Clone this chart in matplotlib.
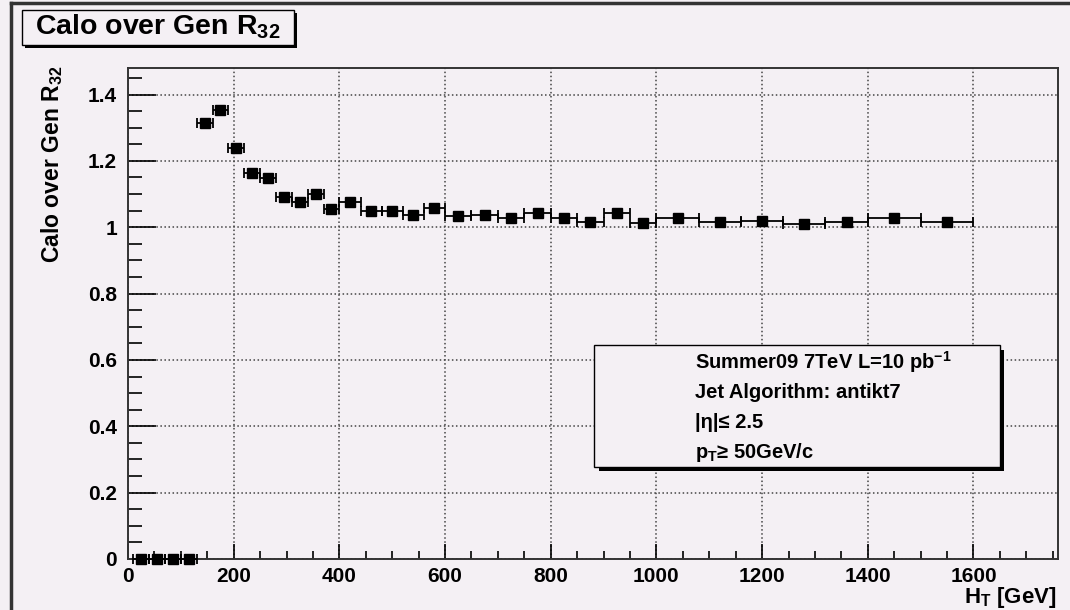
import matplotlib
matplotlib.use("Agg")
import matplotlib.pyplot as plt
from matplotlib.patches import Rectangle
from matplotlib.lines import Line2D
from matplotlib.ticker import MultipleLocator, FuncFormatter
import numpy as np

plt.rcParams['font.family'] = ['Liberation Sans', 'DejaVu Sans']
plt.rcParams['font.weight'] = 'bold'
plt.rcParams['mathtext.default'] = 'regular'

# H_T bin edges (GeV) and Calo/Gen R32 ratio per bin
bin_edges = [10, 40, 70, 100, 130, 160, 190, 220, 250, 280, 310, 340, 370, 400,
             440, 480, 520, 560, 600, 650, 700, 750, 800, 850, 900, 950, 1000,
             1080, 1160, 1240, 1320, 1400, 1500, 1600]
ratio = [0.0, 0.0, 0.0, 0.0,
         1.313, 1.352, 1.238, 1.163, 1.148, 1.091, 1.076, 1.100, 1.055,
         1.076, 1.049, 1.049, 1.037, 1.058, 1.034, 1.037, 1.028, 1.043,
         1.028, 1.016, 1.043, 1.013, 1.028, 1.016, 1.019, 1.010, 1.016,
         1.028, 1.016]
legend_lines = ["Summer09 7TeV L=10 pb$^{-1}$",
                "Jet Algorithm: antikt7",
                "|\u03b7|\u2264 2.5",
                "p$_{T}$\u2265 50GeV/c"]

bg = '#f4f0f4'
W, H = 1070, 610
fig = plt.figure(figsize=(W / 100, H / 100), dpi=100, facecolor=bg)

def fx(px):
    return px / W

def fy(py):
    return 1 - py / H

ax = fig.add_axes([fx(128), fy(559), fx(1058) - fx(128), fy(68) - fy(559)])
ax.set_facecolor(bg)

edges = np.array(bin_edges, dtype=float)
centers = (edges[:-1] + edges[1:]) / 2
half = (edges[1:] - edges[:-1]) / 2
ax.errorbar(centers, ratio, xerr=half, fmt='s', color='black', ms=6.8,
            elinewidth=1.3, capsize=3.5, capthick=1.3, clip_on=False, zorder=3)

ax.set_xlim(0, 1760)
ax.set_ylim(0, 1.48)
ax.xaxis.set_major_locator(MultipleLocator(200))
ax.xaxis.set_minor_locator(MultipleLocator(50))
ax.yaxis.set_major_locator(MultipleLocator(0.2))
ax.yaxis.set_minor_locator(MultipleLocator(0.05))
ax.yaxis.set_major_formatter(FuncFormatter(lambda v, p: f"{v:g}"))
ax.tick_params(axis='y', which='major', direction='in', length=20, width=1.2,
               labelsize=15, pad=8, right=False)
ax.tick_params(axis='y', which='minor', direction='in', length=10, width=1.2, right=False)
ax.tick_params(axis='x', which='major', direction='in', length=11, width=1.2,
               labelsize=15, pad=6, top=False)
ax.tick_params(axis='x', which='minor', direction='in', length=5.5, width=1.2, top=False)
for s in ax.spines.values():
    s.set_linewidth(1.4)
    s.set_color('#333333')
ax.grid(True, which='major', linestyle=':', color='#444444', linewidth=1.1)
ax.set_axisbelow(True)

# axis titles
fig.text(fx(52), fy(66), "Calo over Gen R$_{32}$", rotation=90, ha='center', va='top',
         fontsize=16.5, fontweight='bold')
fig.text(fx(1057), fy(603), "H$_{T}$ [GeV]", ha='right', va='baseline',
         fontsize=16, fontweight='bold')

# canvas border
fig.add_artist(Line2D([fx(11), fx(11)], [fy(3), 0], transform=fig.transFigure,
                      color='#333333', lw=2.5))
fig.add_artist(Line2D([fx(11), 1], [fy(3), fy(3)], transform=fig.transFigure,
                      color='#333333', lw=2.5))

# title box with shadow
fig.add_artist(Rectangle((fx(25), fy(48)), fx(297) - fx(25), fy(13) - fy(48),
                         transform=fig.transFigure, facecolor='black', edgecolor='none'))
fig.add_artist(Rectangle((fx(22), fy(45)), fx(294) - fx(22), fy(10) - fy(45),
                         transform=fig.transFigure, facecolor=bg, edgecolor='black', lw=1))
fig.text(fx(158), fy(27), "Calo over Gen R$_{32}$", ha='center', va='center',
         fontsize=20.5, fontweight='bold')

# info box with shadow
fig.add_artist(Rectangle((fx(599), fy(471)), fx(1004) - fx(599), fy(350) - fy(471),
                         transform=fig.transFigure, facecolor='black', edgecolor='none'))
fig.add_artist(Rectangle((fx(594), fy(467)), fx(1000) - fx(594), fy(345) - fy(467),
                         transform=fig.transFigure, facecolor=bg, edgecolor='black', lw=1))
for i, line in enumerate(legend_lines):
    fig.text(fx(695), fy(362 + 30 * i), line, ha='left', va='center',
             fontsize=14.5, fontweight='bold')

fig.savefig("out.png", dpi=100, facecolor=bg)
